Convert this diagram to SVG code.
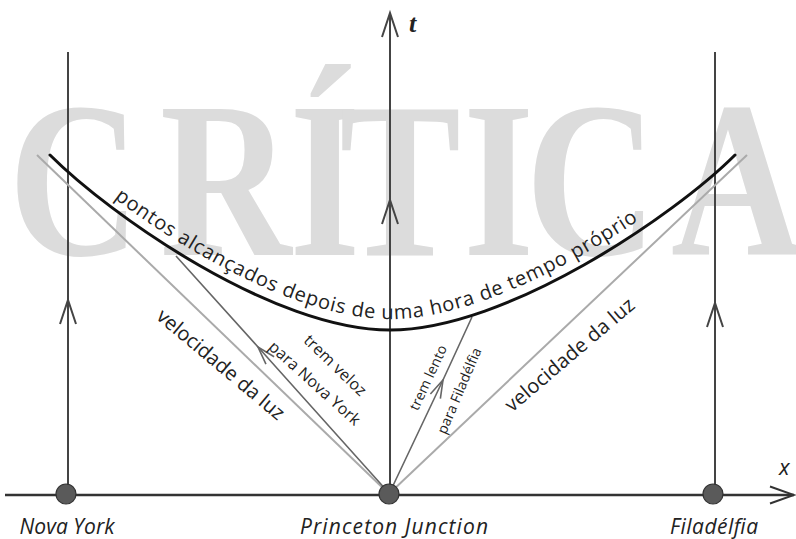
<svg xmlns="http://www.w3.org/2000/svg" width="796" height="539" viewBox="0 0 796 539">
<style>
.wm{font-family:"Liberation Serif",serif;font-size:222px;font-weight:bold;fill:#dcdcdc}
.lbl{font-family:"Open Sans","DejaVu Sans",sans-serif;fill:#222;font-weight:500}
.it{font-style:italic;font-size:21px}
.world{stroke:#444;stroke-width:2;fill:none}
.light{stroke:#aaa;stroke-width:2;fill:none}
.train{stroke:#666;stroke-width:1.6;fill:none}
.dot{fill:#5a5a5a;stroke:#333;stroke-width:1.2}
</style>
<defs>
<marker id="chevBig" markerUnits="userSpaceOnUse" orient="auto" markerWidth="30" markerHeight="20" viewBox="-27 -10 30 20" refX="0" refY="0" overflow="visible">
<path d="M-24,-8 L0,0 L-24,8" fill="none" stroke="#444" stroke-width="2"/>
</marker>
<marker id="chevAxis" markerUnits="userSpaceOnUse" orient="auto" markerWidth="30" markerHeight="20" viewBox="-27 -10 30 20" refX="0" refY="0" overflow="visible">
<path d="M-24,-8.5 L0,0 L-24,8.5" fill="none" stroke="#333" stroke-width="2"/>
</marker>
<marker id="chevSmall" markerUnits="userSpaceOnUse" orient="auto" markerWidth="22" markerHeight="14" viewBox="-20 -7 22 14" refX="0" refY="0" overflow="visible">
<path d="M-18,-5.5 L0,0 L-18,5.5" fill="none" stroke="#666" stroke-width="1.6"/>
</marker>
<path id="curveText" d="M50,144 C110,204 273,319 390,319 C507,319 675,204 735,144"/>
</defs>

<g id="watermark">
<text class="wm" transform="scale(0.82,1)" x="10.5 195.1 352.9 414 565.1 641 818.3" y="255">CRÍTICA</text>
</g>

<g id="connectors">
<path id="x-axis" d="M5,495 L794,495" stroke="#333" stroke-width="2.5" fill="none" marker-end="url(#chevAxis)"/>
<path id="t-axis" class="world" d="M390,494 L390,200 L390,13" marker-mid="url(#chevBig)" marker-end="url(#chevBig)"/>
<path id="worldline-ny" class="world" d="M68,494 L68,300 L68,52" marker-mid="url(#chevBig)"/>
<path id="worldline-fil" class="world" d="M715,494 L715,303 L715,52" marker-mid="url(#chevBig)"/>
<path id="light-left" class="light" d="M387,492 L37,155"/>
<path id="light-right" class="light" d="M391,492 L747,155"/>
<path id="train-fast" class="train" d="M388,492 L258,347 L176,256" marker-mid="url(#chevSmall)"/>
<path id="train-slow" class="train" d="M390,492 L443,380 L472,317" marker-mid="url(#chevSmall)"/>
<path id="hyperbola" d="M50,155 C110,215 273,330 390,330 C507,330 675,215 735,155" fill="none" stroke="#111" stroke-width="3" stroke-linecap="round"/>
</g>

<g id="node-nova-york">
<circle class="dot" cx="66" cy="494" r="10"/>
<text class="lbl it" x="67" y="534" text-anchor="middle" textLength="95">Nova York</text>
</g>
<g id="node-princeton">
<circle class="dot" cx="389" cy="494" r="10"/>
<text class="lbl it" x="394" y="534" text-anchor="middle" textLength="188">Princeton Junction</text>
</g>
<g id="node-filadelfia">
<circle class="dot" cx="713" cy="494" r="10"/>
<text class="lbl it" x="714" y="534" text-anchor="middle" textLength="88">Filadélfia</text>
</g>

<g id="axis-labels">
<text x="409" y="32" font-family="Liberation Serif,serif" font-style="italic" font-weight="bold" font-size="26" fill="#222">t</text>
<text class="lbl" x="779" y="475" font-size="22" font-style="italic">x</text>
</g>

<g id="curve-label">
<text class="lbl" font-size="20"><textPath href="#curveText" startOffset="84" textLength="576">pontos alcançados depois de uma hora de tempo próprio</textPath></text>
</g>

<g id="line-labels">
<text class="lbl" font-size="20" text-anchor="middle" transform="translate(216.5,369.7) rotate(40)" textLength="160">velocidade da luz</text>
<text class="lbl" font-size="20" text-anchor="middle" transform="translate(574,360) rotate(-40.4)" textLength="163">velocidade da luz</text>
<text class="lbl" font-size="16" text-anchor="middle" transform="translate(331.4,369.2) rotate(44)" textLength="80">trem veloz</text>
<text class="lbl" font-size="16" text-anchor="middle" transform="translate(311,387.3) rotate(42)" textLength="117">para Nova York</text>
<text class="lbl" font-size="14" text-anchor="middle" transform="translate(432.6,379.7) rotate(-65)" textLength="70">trem lento</text>
<text class="lbl" font-size="14" text-anchor="middle" transform="translate(463.7,392.6) rotate(-67)" textLength="92">para Filadélfia</text>
</g>
</svg>
